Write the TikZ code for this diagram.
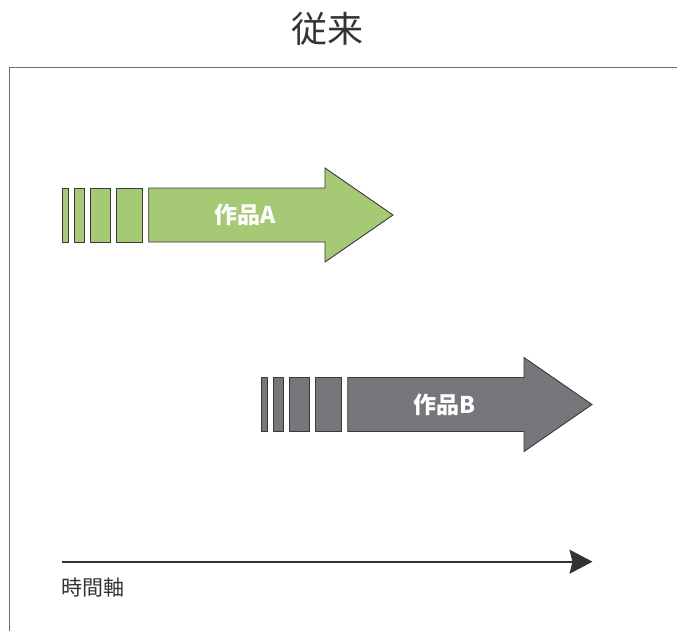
\documentclass[tikz,border=0pt]{standalone}
\usepackage{fontspec}
\setmainfont{Noto Sans CJK JP}
\newfontfamily\cjk{Noto Sans CJK JP}
\usetikzlibrary{arrows.meta}
\definecolor{gframe}{HTML}{6D6D6D}
\definecolor{ink}{HTML}{333333}
\definecolor{agreen}{HTML}{A5C975}
\definecolor{agray}{HTML}{76777B}
\definecolor{edge}{HTML}{3A3A3A}
\tikzset{
  shapeedge/.style={draw=edge, line width=0.9pt, line join=miter},
  worklabel/.style={text=white, font=\cjk\bfseries\fontsize{23}{27}\selectfont, inner sep=0pt},
  axislabel/.style={text=ink, font=\cjk\fontsize{21}{25}\selectfont, inner sep=0pt, anchor=west},
  titlelabel/.style={text=ink, font=\cjk\fontsize{36}{40}\selectfont, inner sep=0pt},
  axisline/.style={draw=ink, line width=1.6pt, -{Stealth[length=23pt,width=24pt,inset=3pt]}},
  frameline/.style={draw=gframe, line width=1.4pt}
}
\newcommand{\workarrow}[2]{%
  \path[shapeedge, fill=#1] (62,188) rectangle (68,242);
  \path[shapeedge, fill=#1] (74,188) rectangle (84.7,242);
  \path[shapeedge, fill=#1] (90,188) rectangle (110,242);
  \path[shapeedge, fill=#1] (116,188) rectangle (142,242);
  \path[shapeedge, fill=#1] (148.7,188) -- (325,188) -- (325,168) -- (393,215)
     -- (325,262) -- (325,242) -- (148.7,242) -- cycle;
}
\begin{document}
\begin{tikzpicture}[x=1pt,y=-1pt]
\useasboundingbox (0,0) rectangle (677,630);
\begin{scope}
\clip (0,0) rectangle (677,630);
\draw[frameline] (9.5,67.5) rectangle (720,700);
\end{scope}
\node[titlelabel] (title) at (327,29) {従来};
% work A
\workarrow{agreen}{}
\node[worklabel] (labA) at (245,215) {作品A};
% work B
\begin{scope}[shift={(199,189.5)}]
\workarrow{agray}{}
\node[worklabel] (labB) at (245,215) {作品B};
\end{scope}
% time axis
\coordinate (t0) at (62,561.7);
\coordinate (t1) at (592.5,561.7);
\draw[axisline] (t0) -- (t1);
\node[axislabel] (axis) at (61,588) {時間軸};
\end{tikzpicture}
\end{document}
